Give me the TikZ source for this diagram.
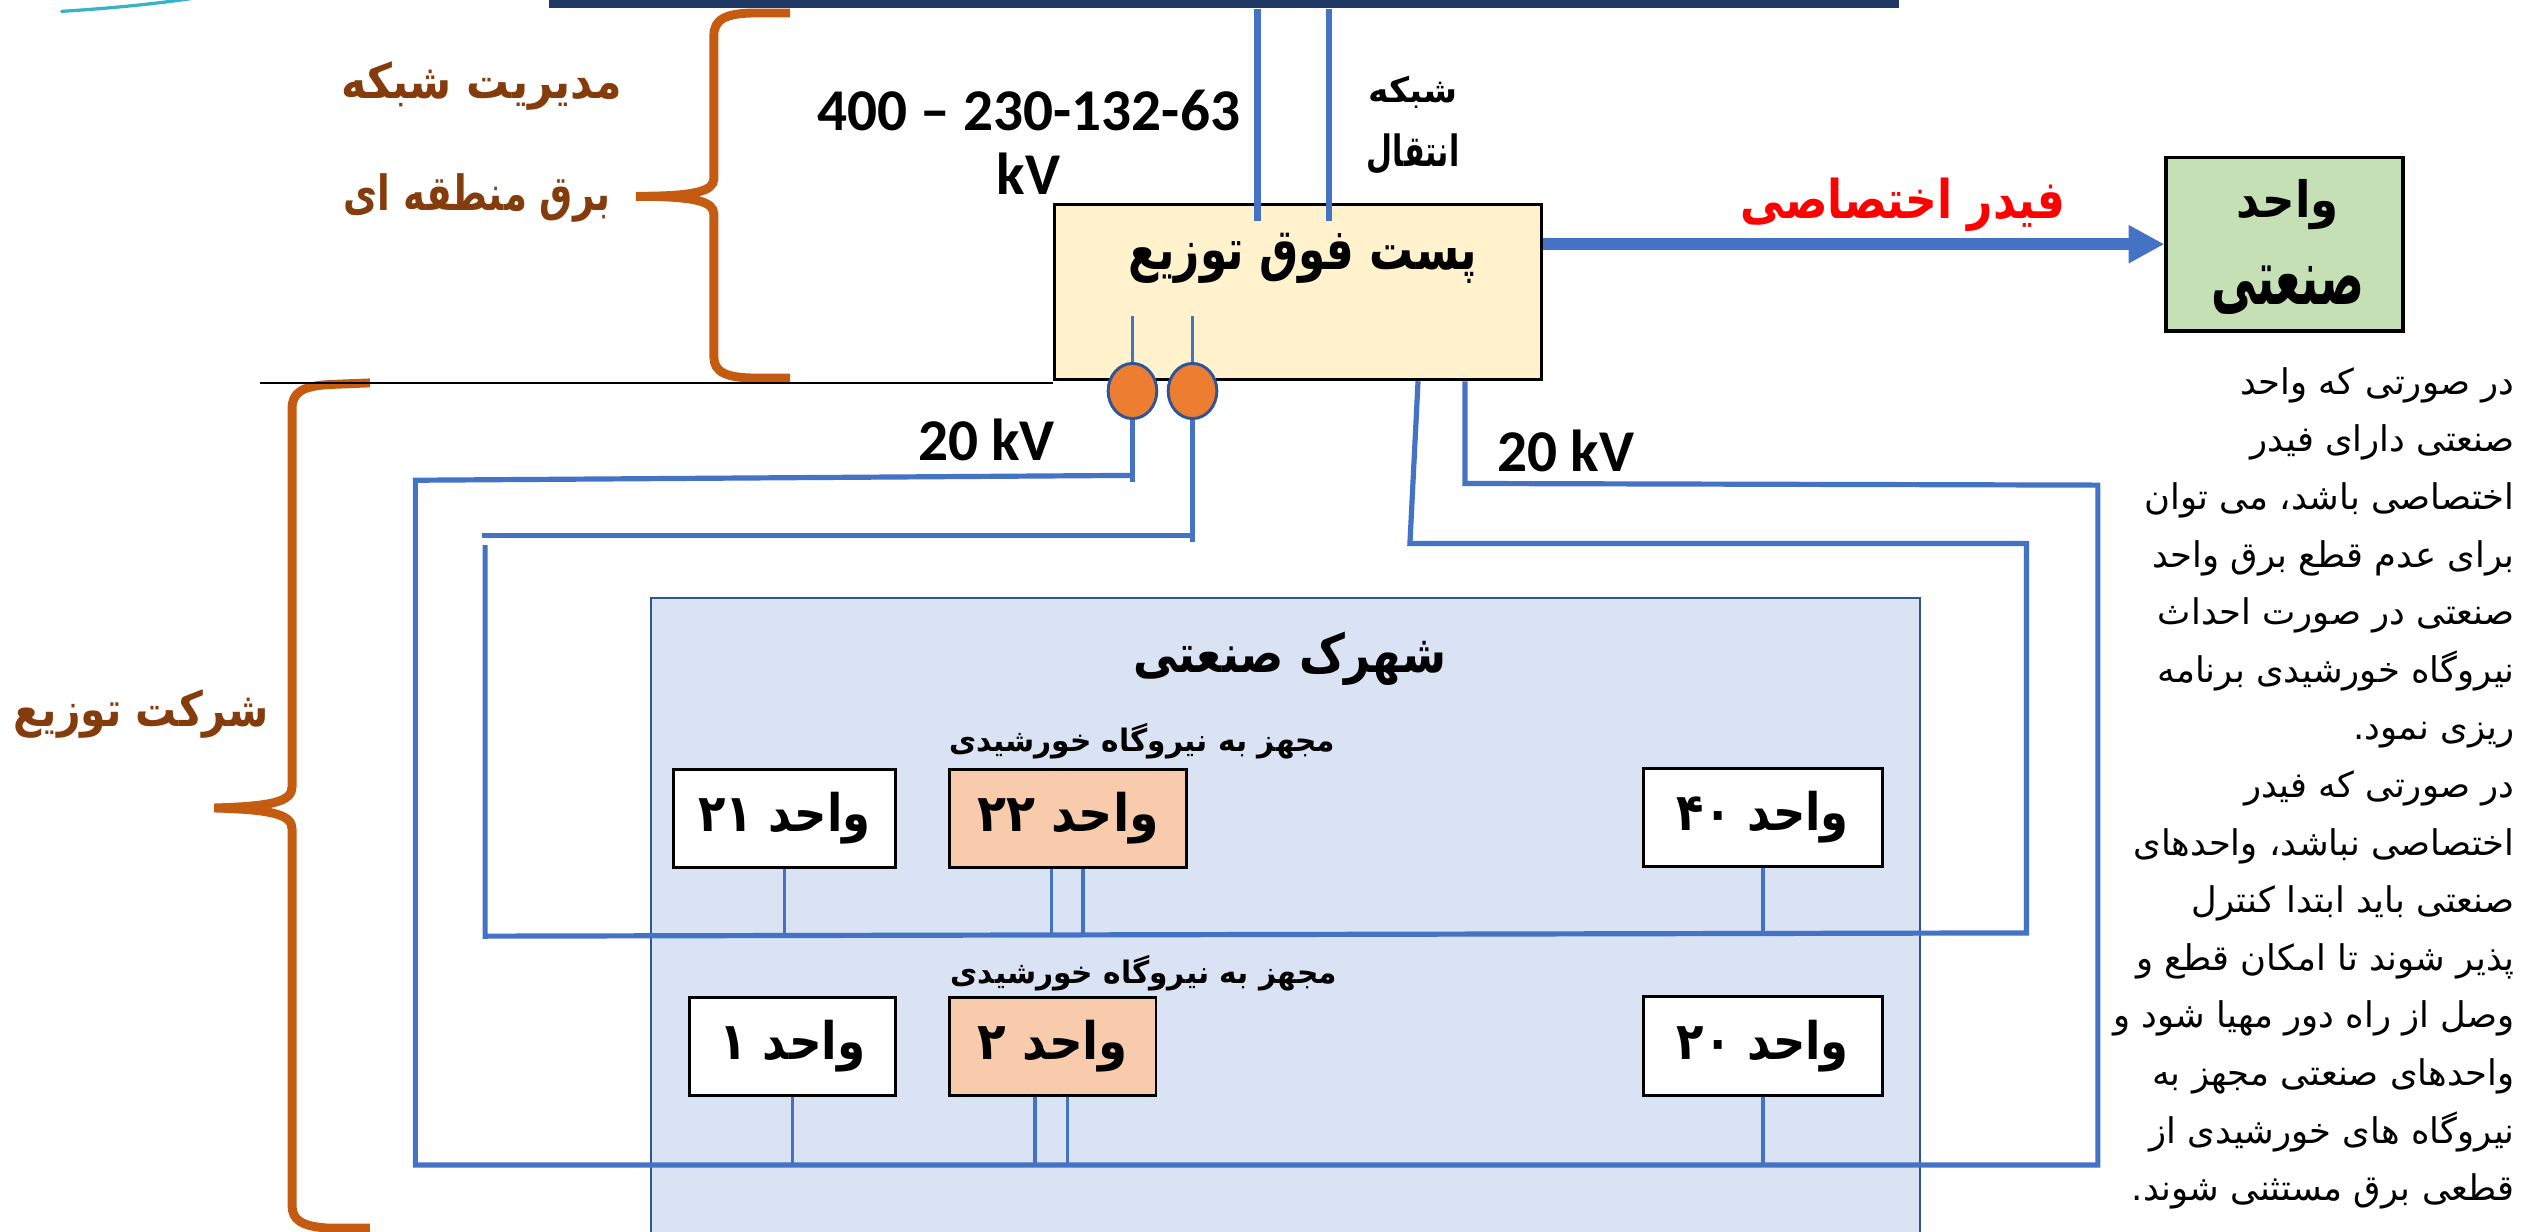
\documentclass[tikz,border=0pt]{standalone}
\usepackage{fontspec}
\usepackage{graphicx}
\usetikzlibrary{arrows.meta,shapes.geometric}
\TeXXeTstate=1
\setmainfont{Carlito}
\newfontfamily\arabicfont[Script=Arabic]{DejaVu Sans}

\definecolor{wireblue}{HTML}{4472C4}
\definecolor{barnavy}{HTML}{203864}
\definecolor{braceorange}{HTML}{C55A11}
\definecolor{labelbrown}{HTML}{843C0C}
\definecolor{substfill}{HTML}{FFF2CC}
\definecolor{unitgreen}{HTML}{C5E0B4}
\definecolor{parkfill}{HTML}{DAE3F3}
\definecolor{parkedge}{HTML}{2F5597}
\definecolor{solarpeach}{HTML}{F8CBAD}
\definecolor{beadorange}{HTML}{ED7D31}
\definecolor{swooshteal}{HTML}{35B3C9}

% Persian text, regular and bold (direction given in the text itself)
\newcommand\fa[1]{{\arabicfont #1}}
\newcommand\fab[1]{{\arabicfont\bfseries #1}}
% bold Persian label scaled to a given width and total height (pt)
\newcommand\fitfa[3]{\resizebox*{#1pt}{#2pt}{\fab{#3}}}

\tikzset{
  wire/.style={draw=wireblue, line width=3.2pt},
  tap/.style={draw=wireblue, line width=2.2pt},
  feed/.style={draw=wireblue, line width=4pt},
  beadline/.style={draw=wireblue, line width=2.4pt},
  feeder/.style={draw=wireblue, line width=7pt, -{Triangle[length=22pt,width=22pt]}},
  bracepath/.style={draw=braceorange, line width=5.5pt},
  lab/.style={inner sep=0pt},
  brownlab/.style={inner sep=0pt, text=labelbrown},
  unitbox/.style={draw=black, line width=1.8pt, fill=white, inner sep=0pt},
  solarbox/.style={unitbox, fill=solarpeach},
  bead/.style={ellipse, draw=parkedge, fill=beadorange, line width=1.8pt,
    minimum width=30pt, minimum height=34pt, inner sep=0pt},
  para/.style={anchor=base east, inner sep=0pt, font=\fontsize{21.8}{26}\selectfont},
  latinlab/.style={inner sep=0pt, font=\fontsize{36.5}{40}\selectfont\bfseries},
}

\begin{document}
\begin{tikzpicture}[x=1pt,y=-1pt]
\fill[white] (0,0) rectangle (1568,759);
\useasboundingbox (0,0) rectangle (1568,759);

% logo fragment and title bar
\draw[swooshteal, line width=2pt, line cap=round] (38,7) .. controls (70,5) and (100,2) .. (125,-2);
\node[fill=barnavy, minimum width=832pt, minimum height=5pt, inner sep=0pt, anchor=north west] (bar) at (338,0) {};

% braces
\draw[bracepath] (487,8) -- (466,8) .. controls (447,8) and (440,12) .. (440,22)
  -- (440,110) .. controls (440,118) and (428,121) .. (392,121)
  .. controls (428,121) and (440,124) .. (440,132)
  -- (440,220) .. controls (440,229) and (447,233) .. (466,233) -- (487,233);
\draw[bracepath] (228,236) -- (203,237) .. controls (186,238) and (180,242) .. (180,252)
  -- (180,485) .. controls (180,494) and (168,497) .. (132,498)
  .. controls (168,499) and (180,502) .. (180,511)
  -- (180,743) .. controls (180,752) and (186,756) .. (203,757) -- (228,757);

% brace labels
\node[brownlab] (mgmt1) at (297,53) {\fitfa{173}{30}{\beginR مدیریت شبکه\endR}};
\node[brownlab] (mgmt2) at (294,122) {\fitfa{164}{30}{\beginR برق منطقه ای\endR}};
\node[brownlab] (dist) at (87,440) {\fitfa{157}{30}{\beginR شرکت توزیع\endR}};

% substation
\node[draw=black, line width=2pt, fill=substfill, minimum width=300pt, minimum height=108pt, inner sep=0pt] (sub) at (800,180) {};
\coordinate (rulestart) at (160,236);
\draw[line width=1pt] (rulestart) -- (sub.west |- rulestart);
\node[lab] (subtext) at (803,159) {\fitfa{215}{31}{\beginR پست فوق توزیع\endR}};
\draw[feed] (bar.south -| 775,0) -- (775,136);
\draw[feed] (bar.south -| 819,0) -- (819,136);
\node[latinlab] (kv1) at (634,68) {400 – 230-132-63};
\node[latinlab] (kv2) at (634,107) {kV};
\node[lab] (tr1) at (871,57) {\fitfa{55}{20}{\beginR شبکه\endR}};
\node[lab] (tr2) at (871,95) {\fitfa{57}{25}{\beginR انتقال\endR}};

% dedicated feeder to an industrial unit
\node[draw=black, line width=2pt, fill=unitgreen, minimum width=146pt, minimum height=107pt, inner sep=0pt] (ind) at (1408,150.5) {};
\node[lab] (indl1) at (1410,126) {\fitfa{63}{31}{\beginR واحد\endR}};
\node[lab] (indl2) at (1410,179) {\fitfa{94}{30}{\beginR صنعتی\endR}};
\draw[feeder] (sub.east |- ind.west) -- (ind.west);
\node[lab, text=red] (feedtext) at (1173,126) {\fitfa{200}{33}{\beginR فیدر اختصاصی\endR}};

% industrial park
\node[draw=parkedge, line width=1.3pt, fill=parkfill, minimum width=782.4pt, minimum height=397pt, inner sep=0pt, anchor=north west] (park) at (400.6,368) {};
\node[lab] (parktitle) at (795,406) {\fitfa{193}{33}{\beginR شهرک صنعتی\endR}};
\node[lab] (solar1) at (704,457) {\fitfa{238}{22}{\beginR مجهز به نیروگاه خورشیدی\endR}};
\node[lab] (solar2) at (705,600) {\fitfa{238}{22}{\beginR مجهز به نیروگاه خورشیدی\endR}};

% 20 kV outgoing feeders
\node[bead] (b1) at (698,241) {};
\node[bead] (b2) at (735,241) {};
\draw[beadline] (698,195) -- (b1.north);
\draw[beadline] (735,195) -- (b2.north);
\node[latinlab] (lv1) at (608,271) {20 kV};
\node[latinlab] (lv2) at (965,278) {20 kV};

% outer ring
\draw[wire] (b1.south) -- (698,297);
\draw[wire] (698,293) -- (256,296) -- (256,718) -- (1293,718) -- (1293,299) -- (903,298) -- (sub.south -| 903,0);
% inner ring
\draw[wire] (b2.south) -- (735,334);
\draw[wire] (735,330) -- (297,330);
\draw[wire] (299,336) -- (299,577) -- (1249,575) -- (1249,335) -- (869,335) -- (sub.south -| 874,0);

% units
\node[unitbox, minimum width=137pt, minimum height=60.5pt] (u21) at (483.5,504.25) {\fitfa{106}{32}{\beginR واحد ۲۱\endR}};
\node[solarbox, minimum width=146.5pt, minimum height=60.5pt] (u22) at (658.25,504.25) {\fitfa{112}{32}{\beginR واحد ۲۲\endR}};
\node[unitbox, minimum width=147pt, minimum height=60.6pt] (u40) at (1086.5,503.7) {\fitfa{106}{32}{\beginR واحد ۴۰\endR}};
\node[unitbox, minimum width=127pt, minimum height=60pt] (u1) at (488.5,645) {\fitfa{90}{32}{\beginR واحد ۱\endR}};
\node[solarbox, minimum width=127.5pt, minimum height=60pt] (u2) at (648.75,645) {\fitfa{93}{32}{\beginR واحد ۲\endR}};
\node[unitbox, minimum width=147pt, minimum height=61pt] (u20) at (1086.5,644.5) {\fitfa{106}{32}{\beginR واحد ۲۰\endR}};

\draw[tap] (u21.south) -- (u21.south |- 0,576);
\draw[tap] (u22.south -| 648,0) -- (648,576);
\draw[tap] (u22.south -| 667.6,0) -- (667.6,576);
\draw[tap] (u40.south) -- (u40.south |- 0,575);
\draw[tap] (u1.south) -- (u1.south |- 0,718);
\draw[tap] (u2.south -| 638,0) -- (638,718);
\draw[tap] (u2.south -| 658,0) -- (658,718);
\draw[tap] (u20.south) -- (u20.south |- 0,718);

% explanatory note
\foreach \ln [count=\i from 0] in {
  \beginR در صورتی که واحد\endR,
  \beginR صنعتی دارای فیدر\endR,
  \beginR اختصاصی باشد، می توان\endR,
  \beginR برای عدم قطع برق واحد\endR,
  \beginR صنعتی در صورت احداث\endR,
  \beginR نیروگاه خورشیدی برنامه\endR,
  \beginR ریزی نمود.\endR,
  \beginR در صورتی که فیدر\endR,
  \beginR اختصاصی نباشد، واحدهای\endR,
  \beginR صنعتی باید ابتدا کنترل\endR,
  \beginR پذیر شوند تا امکان قطع و\endR,
  \beginR وصل از راه دور مهیا شود و\endR,
  \beginR واحدهای صنعتی مجهز به\endR,
  \beginR نیروگاه های خورشیدی از\endR,
  \beginR قطعی برق مستثنی شوند.\endR}
  \node[para] (note\i) at (1550,243+35.5*\i) {\fa{\ln}};
\end{tikzpicture}
\end{document}
